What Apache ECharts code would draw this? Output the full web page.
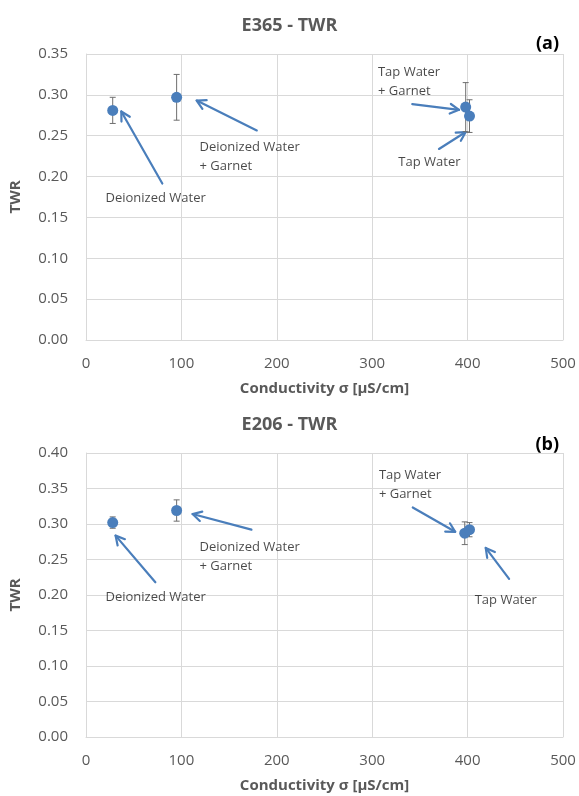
<!DOCTYPE html>
<html>
<head>
<meta charset="utf-8">
<script src="https://cdn.jsdelivr.net/npm/echarts@6/dist/echarts.min.js"></script>
<style>html,body{margin:0;padding:0;background:#fff}#c{width:579px;height:796px}</style>
</head>
<body>
<div id="c"></div>
<script>
// ---- data ----
const pointNames = ['Deionized Water', 'Deionized Water + Garnet', 'Tap Water + Garnet', 'Tap Water'];
// chart (a) E365
const conductivityA = [28, 95, 398, 402];
const twrA = [0.281, 0.297, 0.285, 0.274];
const errA = [0.016, 0.028, 0.030, 0.020];
// chart (b) E206
const conductivityB = [28, 95, 397, 402];
const twrB = [0.302, 0.319, 0.287, 0.292];
const errB = [0.008, 0.015, 0.016, 0.010];
// axis ticks
const xTicks = [0, 100, 200, 300, 400, 500];
const yTicksA = [0, 0.05, 0.10, 0.15, 0.20, 0.25, 0.30, 0.35];
const yTicksB = [0, 0.05, 0.10, 0.15, 0.20, 0.25, 0.30, 0.35, 0.40];
// annotation texts [text, x, y, align] in data units
const labelsA = [
  ['Deionized Water', 73, 0.173, 'center'],
  ['Deionized Water\n+ Garnet', 119, 0.224, 'left'],
  ['Tap Water\n+ Garnet', 306, 0.316, 'left'],
  ['Tap Water', 360, 0.217, 'center']
];
const labelsB = [
  ['Deionized Water', 73, 0.197, 'center'],
  ['Deionized Water\n+ Garnet', 119, 0.2536, 'left'],
  ['Tap Water\n+ Garnet', 307, 0.3556, 'left'],
  ['Tap Water', 440, 0.193, 'center']
];
// arrows [fromX, fromY, toX, toY] in data units
const arrowsA = [[80, 0.1915, 37, 0.2796], [179, 0.2565, 116, 0.293], [342, 0.2887, 391, 0.2817], [370, 0.2338, 398, 0.2545]];
const arrowsB = [[72.7, 0.218, 31, 0.2836], [173.4, 0.292, 111.7, 0.314], [342.5, 0.3233, 387, 0.289], [443.5, 0.2228, 419, 0.2663]];

// ---- styles ----
const FONT = 'Open Sans';
const GRAY = '#595959';
const BLUE = '#4a7ebb';
const GRIDC = '#d9d9d9';

function makeX(gi) {
  return {
    type: 'value', gridIndex: gi, min: xTicks[0], max: xTicks[xTicks.length - 1], interval: xTicks[1] - xTicks[0],
    name: 'Conductivity σ [μS/cm]', nameLocation: 'middle', nameGap: 41,
    nameTextStyle: { fontFamily: FONT, fontSize: 15, fontWeight: 'bold', color: GRAY },
    axisLine: { show: true, lineStyle: { color: GRIDC } }, axisTick: { show: false },
    axisLabel: { fontFamily: FONT, fontSize: 15, color: GRAY, margin: 16 },
    splitLine: { show: true, lineStyle: { color: GRIDC, width: 1 } }
  };
}
function makeY(gi, ticks) {
  return {
    type: 'value', gridIndex: gi, min: ticks[0], max: ticks[ticks.length - 1], interval: ticks[1] - ticks[0],
    name: 'TWR', nameLocation: 'middle', nameGap: 63, nameRotate: 90,
    nameTextStyle: { fontFamily: FONT, fontSize: 15, fontWeight: 'bold', color: GRAY },
    axisLine: { show: true, lineStyle: { color: GRIDC } }, axisTick: { show: false },
    axisLabel: { fontFamily: FONT, fontSize: 15, color: GRAY, margin: 18, formatter: v => v.toFixed(2) },
    splitLine: { show: true, lineStyle: { color: GRIDC, width: 1 } }
  };
}
function errSeries(gi, xs, ys, es) {
  return {
    type: 'custom', xAxisIndex: gi, yAxisIndex: gi, z: 3, silent: true,
    data: xs.map((x, i) => [x, ys[i], es[i]]),
    renderItem: function (params, api) {
      const x = api.value(0), y = api.value(1), e = api.value(2);
      const t = api.coord([x, y + e]), b = api.coord([x, y - e]);
      const c = 3;
      const st = { stroke: '#6e6e6e', lineWidth: 1 };
      return { type: 'group', children: [
        { type: 'line', shape: { x1: t[0], y1: t[1], x2: b[0], y2: b[1] }, style: st },
        { type: 'line', shape: { x1: t[0] - c, y1: t[1], x2: t[0] + c, y2: t[1] }, style: st },
        { type: 'line', shape: { x1: b[0] - c, y1: b[1], x2: b[0] + c, y2: b[1] }, style: st }
      ] };
    }
  };
}
function arrowSeries(gi, arrows) {
  return {
    type: 'custom', xAxisIndex: gi, yAxisIndex: gi, z: 2, silent: true,
    data: arrows,
    renderItem: function (params, api) {
      const p0 = api.coord([api.value(0), api.value(1)]);
      const p1 = api.coord([api.value(2), api.value(3)]);
      const ang = Math.atan2(p1[1] - p0[1], p1[0] - p0[0]);
      const L = 10, spread = 0.5;
      const a1 = [p1[0] - L * Math.cos(ang - spread), p1[1] - L * Math.sin(ang - spread)];
      const a2 = [p1[0] - L * Math.cos(ang + spread), p1[1] - L * Math.sin(ang + spread)];
      const st = { stroke: BLUE, lineWidth: 2.2, fill: null, lineCap: 'round', lineJoin: 'round' };
      return { type: 'group', children: [
        { type: 'line', shape: { x1: p0[0], y1: p0[1], x2: p1[0], y2: p1[1] }, style: st },
        { type: 'polyline', shape: { points: [a1, p1, a2] }, style: st }
      ] };
    }
  };
}
function pointSeries(gi, xs, ys) {
  return {
    type: 'scatter', xAxisIndex: gi, yAxisIndex: gi, z: 4,
    symbol: 'circle', symbolSize: 11, itemStyle: { color: BLUE, opacity: 1 },
    data: xs.map((x, i) => ({ name: pointNames[i], value: [x, ys[i]] }))
  };
}
function labelSeries(gi, labels) {
  return {
    type: 'scatter', xAxisIndex: gi, yAxisIndex: gi, z: 5, symbolSize: 0, silent: true,
    data: labels.map(l => ({
      value: [l[1], l[2]],
      label: { show: true, position: 'inside', align: l[3], verticalAlign: 'middle',
        formatter: l[0], fontFamily: FONT, fontSize: 13, color: '#1a1a1a', lineHeight: 19 }
    }))
  };
}

const option = {
  animation: false,
  backgroundColor: '#fff',
  title: [
    { text: 'E365 - TWR', left: 'center', top: 12, textStyle: { fontFamily: FONT, fontSize: 18, fontWeight: 'bold', color: GRAY } },
    { text: '(a)', right: 15, top: 30, textStyle: { fontFamily: FONT, fontSize: 18, fontWeight: 'bold', color: '#000' } },
    { text: 'E206 - TWR', left: 'center', top: 411, textStyle: { fontFamily: FONT, fontSize: 18, fontWeight: 'bold', color: GRAY } },
    { text: '(b)', right: 15, top: 431, textStyle: { fontFamily: FONT, fontSize: 18, fontWeight: 'bold', color: '#000' } }
  ],
  grid: [
    { left: 82, right: 16, top: 54, height: 286 },
    { left: 83, right: 16, top: 453, height: 284 }
  ],
  xAxis: [makeX(0), makeX(1)],
  yAxis: [makeY(0, yTicksA), makeY(1, yTicksB)],
  series: [
    arrowSeries(0, arrowsA),
    errSeries(0, conductivityA, twrA, errA),
    pointSeries(0, conductivityA, twrA),
    labelSeries(0, labelsA),
    arrowSeries(1, arrowsB),
    errSeries(1, conductivityB, twrB, errB),
    pointSeries(1, conductivityB, twrB),
    labelSeries(1, labelsB)
  ]
};
const chart = echarts.init(document.getElementById('c'), null, { renderer: 'canvas' });
chart.setOption(option);
</script>
</body>
</html>
